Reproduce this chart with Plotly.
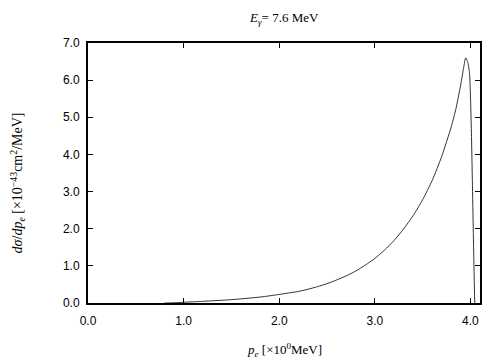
import plotly.graph_objects as go

# electron momentum p_e [MeV]
p_e = [0.80, 0.90, 1.00, 1.20, 1.50, 1.80, 2.00, 2.10, 2.20, 2.30, 2.40, 2.50,
       2.60, 2.70, 2.80, 2.90, 3.00, 3.10, 3.20, 3.30, 3.40, 3.50, 3.60, 3.70,
       3.80, 3.85, 3.90, 3.93, 3.95, 3.97, 3.99, 4.00, 4.01, 4.02, 4.03, 4.04, 4.045]
# dsigma/dp_e [1e-43 cm^2/MeV]
dsigma = [0.0, 0.005, 0.02, 0.045, 0.09, 0.16, 0.23, 0.27, 0.31, 0.37, 0.44, 0.52,
          0.62, 0.73, 0.86, 1.02, 1.20, 1.42, 1.68, 1.99, 2.35, 2.78, 3.30, 3.95,
          4.75, 5.25, 5.90, 6.35, 6.60, 6.50, 6.20, 5.60, 4.60, 3.30, 1.90, 0.60, 0.0]

x_ticks = [0, 1, 2, 3, 4]
x_ticklabels = ["0.0", "1.0", "2.0", "3.0", "4.0"]
y_ticks = [0, 1, 2, 3, 4, 5, 6, 7]
y_ticklabels = ["0.0", "1.0", "2.0", "3.0", "4.0", "5.0", "6.0", "7.0"]

fig = go.Figure()
fig.add_trace(go.Scatter(x=p_e, y=dsigma, mode="lines",
                         line=dict(color="#333333", width=1, shape="spline", smoothing=0.6),
                         showlegend=False, hoverinfo="skip"))

axis_common = dict(showgrid=False, zeroline=False, showline=True, linecolor="black",
                   linewidth=2, mirror="ticks", ticks="inside", ticklen=5,
                   tickcolor="black", tickwidth=1,
                   tickfont=dict(family="Liberation Sans, Arial", size=12, color="black"))

fig.update_layout(
    width=504, height=360,
    paper_bgcolor="white", plot_bgcolor="white",
    margin=dict(l=80, r=32, t=35, b=65),
    xaxis=dict(range=[0, 4.1], tickvals=x_ticks, ticktext=x_ticklabels,
               ticklabelstandoff=6, **axis_common),
    yaxis=dict(range=[0, 7], tickvals=y_ticks, ticktext=y_ticklabels,
               ticklabelstandoff=4, **axis_common),
    annotations=[
        dict(text="<i>E</i><sub><i>γ</i></sub>= 7.6 MeV", x=0.5, y=1.0, xref="paper", yref="paper",
             yshift=14, showarrow=False, xanchor="center", yanchor="bottom",
             font=dict(family="Liberation Serif, Times New Roman", size=13, color="black")),
        dict(text="<i>p<sub>e</sub></i> [×10<sup>0</sup>MeV]", x=0.5, y=0, xref="paper", yref="paper",
             yshift=-58, showarrow=False, xanchor="center", yanchor="bottom",
             font=dict(family="Liberation Serif, Times New Roman", size=13, color="black")),
        dict(text="<i>dσ</i>/<i>dp<sub>e</sub></i> [×10<sup>−43</sup>cm<sup>2</sup>/MeV]",
             x=0, y=0.46, xref="paper", yref="paper", xshift=-70, textangle=-90,
             showarrow=False, xanchor="center", yanchor="middle",
             font=dict(family="Liberation Serif, Times New Roman", size=14, color="black")),
    ],
)

fig.write_html("out.html")
